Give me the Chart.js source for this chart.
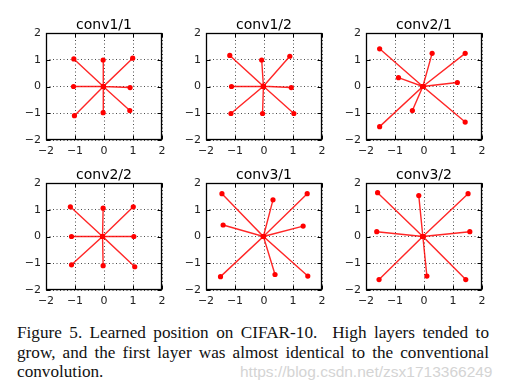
<!DOCTYPE html>
<html>
<head>
<meta charset="utf-8">
<script src="https://cdn.jsdelivr.net/npm/chart.js@4/dist/chart.umd.min.js"></script>
<style>
  html, body { margin: 0; padding: 0; background: #fff; }
  body { width: 507px; height: 390px; position: relative; overflow: hidden; }
  canvas { position: absolute; }
  .cap { position: absolute; left: 17px; width: 472px; top: 323px;
         font-family: "Liberation Serif", "Times New Roman", serif; font-size: 17.2px;
         line-height: 19.7px; color: #111; }
  .cap div.j { text-align: justify; text-align-last: justify; }
  .wm { position: absolute; left: 240px; top: 363px; font-family: "Liberation Sans", Arial, sans-serif;
        font-size: 15.5px; line-height: 17px; color: #d4d4d4; white-space: nowrap; }
</style>
</head>
<body>
<canvas id="c0" width="196" height="149"></canvas>
<canvas id="c1" width="196" height="149"></canvas>
<canvas id="c2" width="196" height="149"></canvas>
<canvas id="c3" width="196" height="149"></canvas>
<canvas id="c4" width="196" height="149"></canvas>
<canvas id="c5" width="196" height="149"></canvas>
<div class="cap">
  <div class="j">Figure 5. Learned position on CIFAR-10.&nbsp; High layers tended to</div>
  <div class="j">grow, and the first layer was almost identical to the conventional</div>
  <div>convolution.</div>
</div>
<div class="wm">https://blog.csdn.net/zsx1713366249</div>
<script>
// ---- data ----
const titles = ["conv1/1", "conv1/2", "conv2/1", "conv2/2", "conv3/1", "conv3/2"];
const tickValues = [-2, -1, 0, 1, 2];
const centers = [[-0.02, 0], [-0.02, 0.01], [-0.04, 0], [-0.05, 0], [-0.02, 0], [-0.04, 0]];
const conv1_1 = [[-1.04, 1.03], [-0.03, 0.99], [0.99, 1.06], [-1.05, 0.0], [0.90, -0.04], [-1.02, -1.09], [-0.03, -0.98], [0.89, -0.90]];
const conv1_2 = [[-1.18, 1.16], [-0.08, 0.99], [0.89, 1.13], [-1.12, 0.0], [0.94, -0.04], [-1.14, -1.01], [-0.05, -1.01], [1.03, -1.01]];
const conv2_1 = [[-1.53, 1.41], [0.28, 1.24], [1.42, 1.24], [-0.88, 0.33], [1.15, 0.15], [-0.40, -0.90], [-1.53, -1.50], [1.42, -1.33]];
const conv2_2 = [[-1.16, 1.11], [-0.03, 1.06], [1.01, 1.11], [-1.12, 0.0], [1.03, 0.0], [-1.12, -1.06], [-0.03, -1.09], [1.06, -1.13]];
const conv3_1 = [[-1.45, 1.60], [0.31, 1.37], [1.49, 1.60], [-1.41, 0.43], [1.35, 0.39], [-1.50, -1.50], [0.38, -1.42], [1.51, -1.48]];
const conv3_2 = [[-1.60, 1.64], [-0.18, 1.53], [1.52, 1.60], [-1.63, 0.18], [1.58, 0.18], [-1.55, -1.61], [0.10, -1.48], [1.44, -1.61]];
const panels = [conv1_1, conv1_2, conv2_1, conv2_2, conv3_1, conv3_2];

// ---- layout ----
const colLeft = [46, 206, 366];
const rowTop = [33, 183];
const axW = 40, titleH = 20, axH = 22;

const fmt = v => (v < 0 ? "\u2212" + Math.abs(v) : String(v));

const framePlugin = {
  id: "frame",
  afterDraw(chart) {
    const {ctx, chartArea: a, scales} = chart;
    ctx.save();
    ctx.strokeStyle = "#000";
    ctx.lineWidth = 1;
    const L = Math.round(a.left) + 0.5, R = Math.round(a.right) - 0.5;
    const T = Math.round(a.top) + 0.5, B = Math.round(a.bottom) - 0.5;
    ctx.beginPath();
    tickValues.forEach(v => {
      const x = Math.round(scales.x.getPixelForValue(v)) + 0.5;
      const y = Math.round(scales.y.getPixelForValue(v)) + 0.5;
      ctx.moveTo(x, B); ctx.lineTo(x, B - 4);
      ctx.moveTo(x, T); ctx.lineTo(x, T + 4);
      ctx.moveTo(L, y); ctx.lineTo(L + 4, y);
      ctx.moveTo(R, y); ctx.lineTo(R - 4, y);
    });
    ctx.stroke();
    ctx.lineWidth = 1.3;
    ctx.strokeRect(L, T, R - L, B - T);
    ctx.restore();
  }
};

panels.forEach((pts, i) => {
  const col = i % 3, row = Math.floor(i / 3);
  const cv = document.getElementById("c" + i);
  cv.style.left = (colLeft[col] - axW) + "px";
  cv.style.top = (rowTop[row] - titleH) + "px";
  const c = centers[i];
  const path = [];
  pts.forEach(p => { path.push({x: c[0], y: c[1]}); path.push({x: p[0], y: p[1]}); });
  const axis = (isX) => ({
    type: "linear", min: -2, max: 2,
    afterFit: s => { if (isX) s.height = axH; else s.width = axW; },
    afterBuildTicks: s => { s.ticks = tickValues.map(v => ({value: v})); },
    ticks: { callback: fmt, padding: 5, color: "#222", font: {family: "DejaVu Sans", size: 11} },
    grid: { color: "rgba(0,0,0,0.7)", lineWidth: 1, drawTicks: false },
    border: { display: false, dash: [1, 2.5] }
  });
  new Chart(cv, {
    type: "scatter",
    data: { datasets: [{
      data: path, showLine: true, yAxisID: "y",
      borderColor: "rgba(255,0,0,0.85)", borderWidth: 1.4,
      pointRadius: 2.6, pointBackgroundColor: "#ff0000", pointBorderWidth: 0,
      pointHoverRadius: 2.6
    }]},
    options: {
      responsive: false, animation: false,
      layout: { padding: 0 },
      plugins: {
        legend: { display: false }, tooltip: { enabled: false },
        title: { display: true, text: titles[i], color: "#000",
                 font: { family: "DejaVu Sans", size: 14, weight: "normal", lineHeight: 1 },
                 padding: { top: 5, bottom: 1 } }
      },
      scales: {
        x: axis(true),
        y: axis(false),
        yRight: { type: "linear", position: "right", min: -2, max: 2, display: true,
                  afterFit: s => { s.width = axW; },
                  ticks: { display: false }, grid: { display: false }, border: { display: false } }
      }
    },
    plugins: [framePlugin]
  });
});
</script>
</body>
</html>
